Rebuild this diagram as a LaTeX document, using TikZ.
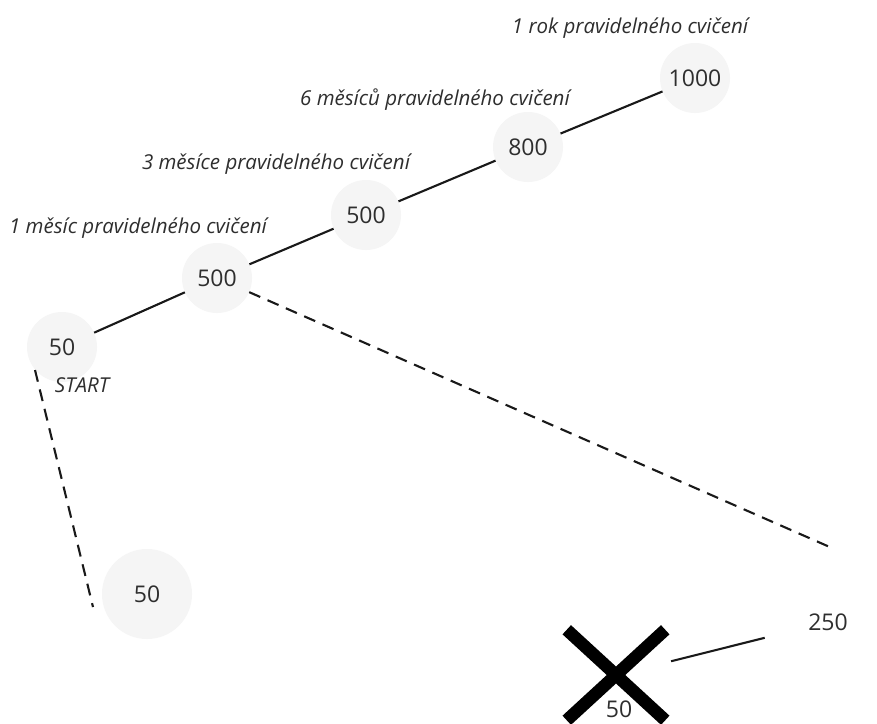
\documentclass[tikz,border=0pt]{standalone}
\usepackage{fontspec}
\setmainfont{Open Sans}
\usetikzlibrary{shapes.misc}
\definecolor{txt}{HTML}{2E2E2E}
\begin{document}
\begin{tikzpicture}[x=1pt,y=-1pt,
  stage/.style={circle, fill=black!4, minimum size=70pt, inner sep=0pt, text=txt, font=\fontsize{23}{25}\selectfont},
  lbl/.style={text=txt, font=\fontsize{20.5}{23}\selectfont\itshape, inner sep=0pt},
  num/.style={text=txt, font=\fontsize{23}{25}\selectfont, inner sep=0pt},
  conn/.style={line width=2.1pt, black!90},
  dconn/.style={line width=2.1pt, black!90, dash pattern=on 12pt off 8pt}]
\useasboundingbox (0,0) rectangle (877,723);
\fill[white] (0,0) rectangle (877,723);
% stage nodes
\node[stage] (s50) at (62,347) {50};
\node[stage] (m1) at (217,278) {500};
\node[stage] (m3) at (366,215) {500};
\node[stage] (m6) at (528,147) {800};
\node[stage] (y1) at (695,78) {1000};
\node[stage, minimum size=90pt, fill=black!4] (b50) at (147,594) {50};
% labels
\node[lbl] (l1) at (138,228) {1 měsíc pravidelného cvičení};
\node[lbl] (l3) at (276,164) {3 měsíce pravidelného cvičení};
\node[lbl] (l6) at (435,100) {6 měsíců pravidelného cvičení};
\node[lbl] (l12) at (630,28) {1 rok pravidelného cvičení};
\node[lbl] (start) at (82,385) {START};
% bottom right
\node[draw, cross out, line width=12.5pt, minimum width=86pt, minimum height=78pt, inner sep=0pt] (xm) at (616,675) {};
\node[num] (x50) at (619,709) {50};
\node[num, minimum size=130pt, circle] (n250) at (828,622) {};
\node[num] (t250) at (828,622) {250};
% connectors
\draw[conn] (s50) -- (m1);
\draw[conn] (m1) -- (m3);
\draw[conn] (m3) -- (m6);
\draw[conn] (m6) -- (y1);
\draw[conn, shorten <=6pt] (xm) -- (n250);
\coordinate (dend) at (832,548);
\draw[dconn] (m1) -- (dend);
\coordinate (sdash) at (35,370);
\coordinate (bdash) at (93,607);
\draw[dconn] (sdash) -- (bdash);
\end{tikzpicture}
\end{document}
